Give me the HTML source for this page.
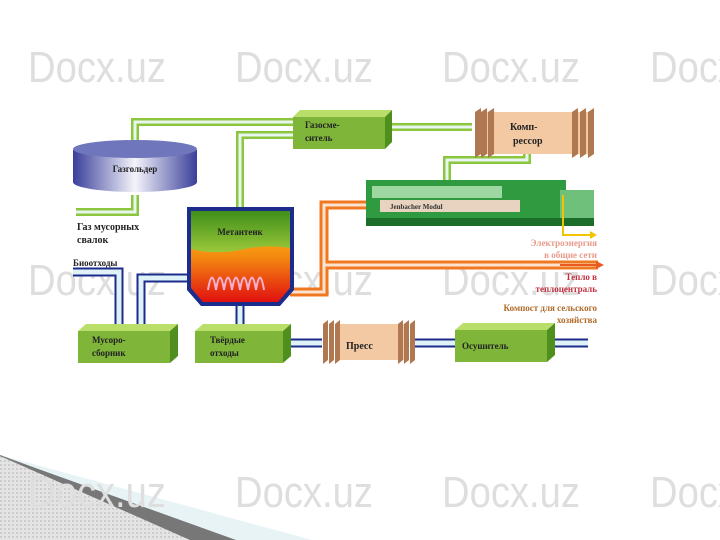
<!DOCTYPE html>
<html><head><meta charset="utf-8"><style>
html,body{margin:0;padding:0;background:#fff;}
svg{display:block;}
text{font-family:"Liberation Serif",serif;font-weight:bold;}
.wm text{font-family:"Liberation Sans",sans-serif;font-weight:normal;fill:#dedede;font-size:44px;}
</style></head><body>
<svg width="720" height="540" viewBox="0 0 720 540" xmlns="http://www.w3.org/2000/svg">
<defs>
<linearGradient id="cyl" x1="0" x2="1"><stop offset="0" stop-color="#3a3f9a"/><stop offset="0.5" stop-color="#f4f4fb"/><stop offset="1" stop-color="#3a3f9a"/></linearGradient>
<linearGradient id="tank" x1="0" y1="0" x2="0" y2="1"><stop offset="0" stop-color="#f7d21a"/><stop offset="0.5" stop-color="#f58a10"/><stop offset="1" stop-color="#e01010"/></linearGradient>
<linearGradient id="grn" x1="0" y1="0" x2="0" y2="1"><stop offset="0" stop-color="#3f8f1a"/><stop offset="1" stop-color="#9cc83a"/></linearGradient>
<pattern id="dots" width="4" height="4" patternUnits="userSpaceOnUse"><rect width="4" height="4" fill="#e4e4e4"/><circle cx="1" cy="1" r="0.7" fill="#aaa"/></pattern>
</defs>
<!-- bottom-left decoration -->
<polygon points="0,455 0,540 312,540" fill="#e8f3f6"/>
<polygon points="0,455 0,540 236,540 30,466" fill="#777"/>
<polygon points="0,456 0,540 190,540" fill="url(#dots)"/>
<!-- watermarks -->
<g class="wm">
<text x="28" y="82" textLength="138" lengthAdjust="spacingAndGlyphs">Docx.uz</text><text x="235" y="82" textLength="138" lengthAdjust="spacingAndGlyphs">Docx.uz</text><text x="442" y="82" textLength="138" lengthAdjust="spacingAndGlyphs">Docx.uz</text><text x="650" y="82" textLength="138" lengthAdjust="spacingAndGlyphs">Docx.uz</text>
<text x="28" y="295" textLength="138" lengthAdjust="spacingAndGlyphs">Docx.uz</text><text x="235" y="295" textLength="138" lengthAdjust="spacingAndGlyphs">Docx.uz</text><text x="442" y="295" textLength="138" lengthAdjust="spacingAndGlyphs">Docx.uz</text><text x="650" y="295" textLength="138" lengthAdjust="spacingAndGlyphs">Docx.uz</text>
<text x="28" y="507" textLength="138" lengthAdjust="spacingAndGlyphs">Docx.uz</text><text x="235" y="507" textLength="138" lengthAdjust="spacingAndGlyphs">Docx.uz</text><text x="442" y="507" textLength="138" lengthAdjust="spacingAndGlyphs">Docx.uz</text><text x="650" y="507" textLength="138" lengthAdjust="spacingAndGlyphs">Docx.uz</text>
</g>
<!-- green gas pipes -->
<g fill="none" stroke-linejoin="miter">
<path d="M135 142 V122 H295 M240 207 V135 H295 M135 195 V212 H76 M388 127 H472 M527 152 V160 H447 V180" stroke="#8cc63f" stroke-width="8"/>
<path d="M135 142 V122 H295 M240 207 V135 H295 M135 195 V212 H76 M388 127 H472 M527 152 V160 H447 V180" stroke="#e8f6ef" stroke-width="3"/>
</g>
<!-- orange pipes -->
<g fill="none">
<path d="M290 292 H324 V205 H368 M324 265 H598" stroke="#f07820" stroke-width="9"/>
<path d="M290 292 H324 V205 H368 M324 265 H598" stroke="#fbe3d0" stroke-width="3"/>
<path d="M560 265 H596" stroke="#e85b20" stroke-width="2"/>
<polygon points="596,261 604,265 596,269" fill="#e85b20"/>
</g>
<!-- blue pipes -->
<g fill="none">
<path d="M73 272 H119 V326 M188 278 H141 V326 M240 302 V326 M285 343 H322 M415 343 H458 M553 343 H588" stroke="#1c2c8c" stroke-width="9"/>
<path d="M73 272 H119 V326 M188 278 H141 V326 M240 302 V326 M285 343 H322 M415 343 H458 M553 343 H588" stroke="#dff2f8" stroke-width="5"/>
</g>
<!-- gasholder -->
<path d="M73 150 V182 A62 10 0 0 0 197 182 V150 Z" fill="url(#cyl)"/>
<ellipse cx="135" cy="149" rx="62" ry="9" fill="#7076bb"/>
<text x="135" y="172" font-size="9" text-anchor="middle" fill="#222">Газгольдер</text>
<text x="77" y="230" font-size="10" fill="#222">Газ мусорных</text>
<text x="77" y="243" font-size="10" fill="#222">свалок</text>
<text x="73" y="266" font-size="9" fill="#222">Биоотходы</text>
<!-- metatank -->
<path d="M187 207 H294 V290 L280 306 H201 L187 290 Z" fill="#1c2c8c"/>
<path d="M191 211 H290 V288 L278 302 H203 L191 288 Z" fill="url(#tank)"/>
<path d="M191 211 H290 V248 Q265 244 240 250 Q215 255 191 249 Z" fill="url(#grn)"/>
<text x="240" y="235" font-size="9" text-anchor="middle" fill="#222">Метантенк</text>
<path d="M208 290 Q212 265 216 290 Q220 265 224 290 Q228 265 232 290 Q236 265 240 290 Q244 265 248 290 Q252 265 256 290 Q260 265 264 290" fill="none" stroke="#f9b0d0" stroke-width="2"/>
<!-- green 3D boxes -->
<g>
<polygon points="293,117 300,110 392,110 385,117" fill="#b9de6a"/><polygon points="385,117 392,110 392,142 385,149" fill="#4f8f1e"/><rect x="293" y="117" width="92" height="32" fill="#7fb63a"/>
<polygon points="78,331 86,324 178,324 170,331" fill="#b9de6a"/><polygon points="170,331 178,324 178,356 170,363" fill="#4f8f1e"/><rect x="78" y="331" width="92" height="32" fill="#7fb63a"/>
<polygon points="195,331 203,324 291,324 283,331" fill="#b9de6a"/><polygon points="283,331 291,324 291,356 283,363" fill="#4f8f1e"/><rect x="195" y="331" width="88" height="32" fill="#7fb63a"/>
<polygon points="455,330 463,323 555,323 547,330" fill="#b9de6a"/><polygon points="547,330 555,323 555,355 547,362" fill="#4f8f1e"/><rect x="455" y="330" width="92" height="32" fill="#7fb63a"/>
</g>
<text x="305" y="128" font-size="9" fill="#222">Газосме-</text><text x="305" y="141" font-size="9" fill="#222">ситель</text>
<text x="92" y="343" font-size="9" fill="#222">Мусоро-</text><text x="92" y="356" font-size="9" fill="#222">сборник</text>
<text x="210" y="343" font-size="9" fill="#222">Твёрдые</text><text x="210" y="356" font-size="9" fill="#222">отходы</text>
<text x="462" y="349" font-size="9" fill="#222">Осушитель</text>
<!-- peach boxes -->
<g>
<rect x="485" y="112" width="105" height="42" fill="#f3c9a4"/>
<path d="M475 112 l6 -4 v46 l-6 4 z M481 112 l6 -4 v46 l-6 4 z M488 112 l6 -4 v46 l-6 4 z M572 112 l6 -4 v46 l-6 4 z M580 112 l6 -4 v46 l-6 4 z M588 112 l6 -4 v46 l-6 4 z" fill="#b07850"/>
<rect x="335" y="324" width="70" height="36" fill="#f3c9a4"/>
<path d="M323 324 l5 -4 v40 l-5 4 z M329 324 l5 -4 v40 l-5 4 z M335 324 l5 -4 v40 l-5 4 z M398 324 l5 -4 v40 l-5 4 z M404 324 l5 -4 v40 l-5 4 z M410 324 l5 -4 v40 l-5 4 z" fill="#b07850"/>
</g>
<text x="510" y="130" font-size="10" fill="#222">Комп-</text><text x="513" y="144" font-size="10" fill="#222">рессор</text>
<text x="346" y="349" font-size="10" fill="#222">Пресс</text>
<!-- engine -->
<rect x="366" y="180" width="200" height="46" fill="#2f9a40"/>
<rect x="372" y="186" width="130" height="12" fill="#9fd7a0"/>
<rect x="380" y="200" width="140" height="12" fill="#e7d3c0"/>
<rect x="366" y="218" width="228" height="8" fill="#1d6d2a"/>
<rect x="560" y="190" width="34" height="28" fill="#6fc07a"/>
<text x="390" y="209" font-size="7" fill="#333">Jenbacher Modul</text>
<path d="M563 195 V235 H592" fill="none" stroke="#f2c400" stroke-width="2"/>
<polygon points="590,231 597,235 590,239" fill="#f2c400"/>
<!-- right labels -->
<g font-size="9" text-anchor="end">
<text x="597" y="246" fill="#e89a8a">Электроэнергия</text><text x="597" y="258" fill="#e89a8a">в общие сети</text>
<text x="597" y="280" fill="#c03040">Тепло в</text><text x="597" y="292" fill="#c03040">теплоцентраль</text>
<text x="597" y="311" fill="#b06a2a">Компост для сельского</text><text x="597" y="323" fill="#b06a2a">хозяйства</text>
</g>
</svg>
</body></html>
